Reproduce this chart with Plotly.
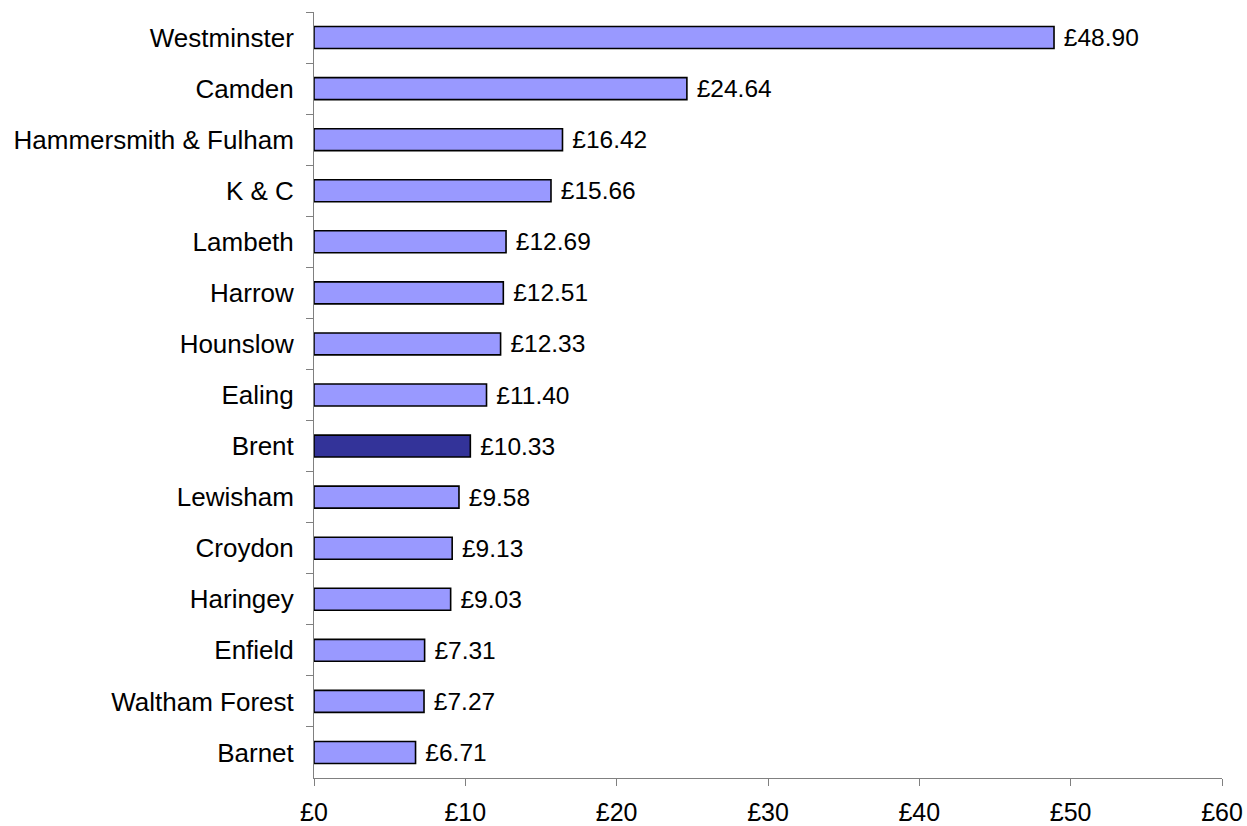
import plotly.graph_objects as go

boroughs = [
    "Westminster", "Camden", "Hammersmith & Fulham", "K & C", "Lambeth",
    "Harrow", "Hounslow", "Ealing", "Brent", "Lewisham", "Croydon",
    "Haringey", "Enfield", "Waltham Forest", "Barnet",
]
values = [48.90, 24.64, 16.42, 15.66, 12.69, 12.51, 12.33, 11.40, 10.33,
          9.58, 9.13, 9.03, 7.31, 7.27, 6.71]
x_ticks = [0, 10, 20, 30, 40, 50, 60]
x_tick_labels = ["£0", "£10", "£20", "£30", "£40", "£50", "£60"]

highlight = "Brent"
colors = ["#333399" if b == highlight else "#9999FF" for b in boroughs]

fig = go.Figure()
fig.add_trace(go.Bar(
    x=values, y=boroughs,
    orientation="h",
    marker=dict(color=colors, line=dict(color="black", width=1.6)),
    texttemplate=" £%{x:.2f}",
    textposition="outside",
    constraintext="none",
    textfont=dict(family="Liberation Sans, Arial", size=24.5, color="black"),
    cliponaxis=False,
))

fig.update_layout(
    width=1247, height=826,
    margin=dict(l=314, r=25, t=12, b=48),
    plot_bgcolor="white", paper_bgcolor="white",
    font=dict(family="Liberation Sans, Arial", size=26, color="black"),
    bargap=0.57,
    showlegend=False,
    xaxis=dict(
        range=[0, 60], tickvals=x_ticks, ticktext=x_tick_labels,
        tickfont=dict(size=25),
        showgrid=False, zeroline=False, automargin=False,
        showline=True, linecolor="#808080", linewidth=1,
        ticks="outside", ticklen=7, tickcolor="#808080",
        ticklabelstandoff=5,
    ),
    yaxis=dict(
        type="category", categoryorder="array", categoryarray=boroughs,
        range=[14.5, -0.5], automargin=False,
        showgrid=False, zeroline=False,
        showline=True, linecolor="#808080", linewidth=1,
        ticks="outside", ticklen=7, tickcolor="#808080",
        tickson="boundaries", ticklabelstandoff=14,
    ),
)

# drop the page's default body margin so the figure sits at the window corner
fig.write_html(
    "out.html",
    config={"displayModeBar": False},
    post_script="document.body.style.margin='0';",
)
